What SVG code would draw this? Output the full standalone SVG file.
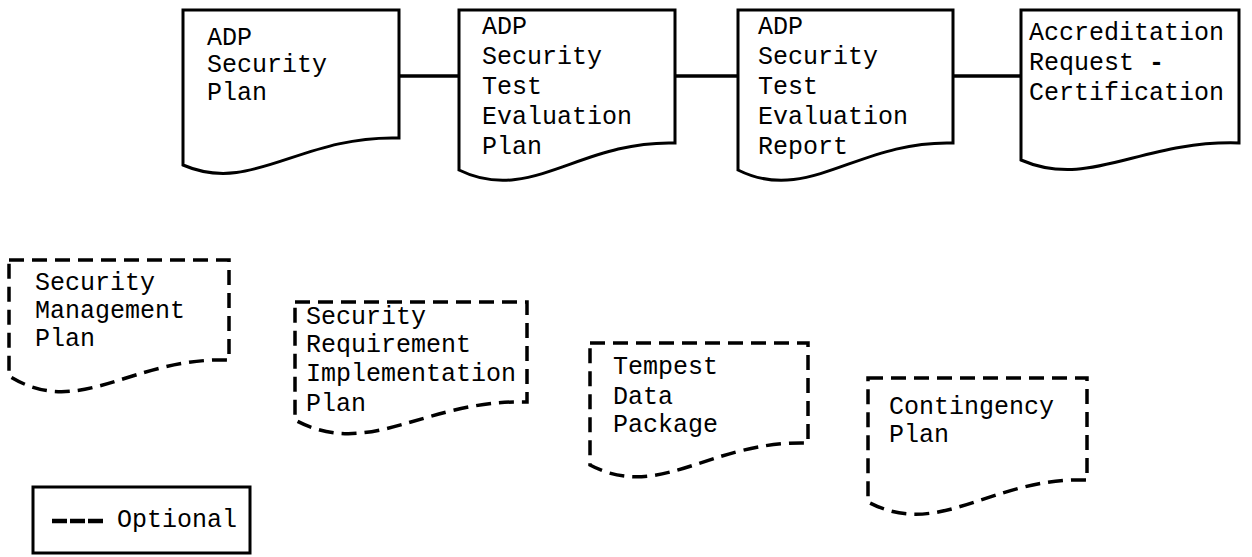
<svg xmlns="http://www.w3.org/2000/svg" width="1252" height="557" viewBox="0 0 1252 557">
  <style>
    .doc { fill: #fff; stroke: #000; stroke-width: 3; stroke-linejoin: miter; }
    .opt { fill: #fff; stroke: #000; stroke-width: 3.5; stroke-dasharray: 15 8; }
    .link { stroke: #000; stroke-width: 3.5; fill: none; }
    .lbl { font-family: "Liberation Mono", "Courier New", monospace; font-size: 25px; fill: #000; }
  </style>
  <rect width="1252" height="557" fill="#fff"/>

  <!-- connectors between the required documents -->
  <g id="connectors">
    <line class="link" x1="399" y1="76" x2="459" y2="76"/>
    <line class="link" x1="675" y1="76" x2="738" y2="76"/>
    <line class="link" x1="953" y1="76" x2="1021" y2="76"/>
  </g>

  <!-- required documents -->
  <g id="adp-security-plan">
    <path class="doc" d="M183,10 H399 V138 C300,135 252,195 183,165 Z"/>
    <text class="lbl" x="207" y="45">ADP<tspan x="207" y="72">Security</tspan><tspan x="207" y="100">Plan</tspan></text>
  </g>
  <g id="adp-test-evaluation-plan">
    <path class="doc" d="M459,10 H675 V143 C580,140 530,205 459,170 Z"/>
    <text class="lbl" x="482" y="34">ADP<tspan x="482" y="64">Security</tspan><tspan x="482" y="94">Test</tspan><tspan x="482" y="124">Evaluation</tspan><tspan x="482" y="154">Plan</tspan></text>
  </g>
  <g id="adp-test-evaluation-report">
    <path class="doc" d="M738,10 H953 V143 C858,140 808,205 738,170 Z"/>
    <text class="lbl" x="758" y="34">ADP<tspan x="758" y="64">Security</tspan><tspan x="758" y="94">Test</tspan><tspan x="758" y="124">Evaluation</tspan><tspan x="758" y="154">Report</tspan></text>
  </g>
  <g id="accreditation-request">
    <path class="doc" d="M1021,10 H1239 V143 C1140,140 1090,190 1021,160 Z"/>
    <text class="lbl" x="1029" y="40">Accreditation<tspan x="1029" y="70">Request <tspan font-weight="bold">-</tspan></tspan><tspan x="1029" y="100">Certification</tspan></text>
  </g>

  <!-- optional documents -->
  <g id="security-management-plan">
    <path class="opt" d="M9,260 H229 V360 C130,357 80,420 9,376 Z"/>
    <text class="lbl" x="35" y="290">Security<tspan x="35" y="318">Management</tspan><tspan x="35" y="346">Plan</tspan></text>
  </g>
  <g id="security-requirement-implementation-plan">
    <path class="opt" d="M295,302 H527 V402 C425,399 370,460 295,420 Z"/>
    <text class="lbl" x="306" y="324">Security<tspan x="306" y="352">Requirement</tspan><tspan x="306" y="381">Implementation</tspan><tspan x="306" y="411">Plan</tspan></text>
  </g>
  <g id="tempest-data-package">
    <path class="opt" d="M590,343 H808 V443 C710,440 660,502 590,465 Z"/>
    <text class="lbl" x="613" y="374">Tempest<tspan x="613" y="404">Data</tspan><tspan x="613" y="432">Package</tspan></text>
  </g>
  <g id="contingency-plan">
    <path class="opt" d="M868,378 H1087 V480 C990,477 940,540 868,502 Z"/>
    <text class="lbl" x="889" y="414">Contingency<tspan x="889" y="442">Plan</tspan></text>
  </g>

  <!-- legend -->
  <g id="legend">
    <rect x="33" y="487" width="217" height="66" fill="#fff" stroke="#000" stroke-width="3"/>
    <line x1="52" y1="521" x2="105" y2="521" stroke="#000" stroke-width="4.5" stroke-dasharray="15 3"/>
    <text class="lbl" x="117" y="527">Optional</text>
  </g>
</svg>
